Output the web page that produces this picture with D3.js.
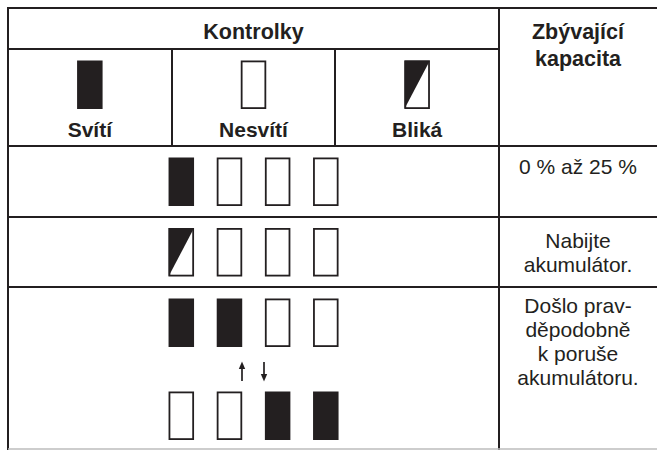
<!DOCTYPE html>
<html><head><meta charset="utf-8">
<script src="https://cdn.jsdelivr.net/npm/d3@7"></script>
<style>html,body{margin:0;padding:0;background:#fff;}svg{display:block;}</style>
</head><body>
<svg id="c" width="657" height="450"></svg>
<script>
// ---- data ----
const headerMain = "Kontrolky";
const headerCap = ["Zbývající", "kapacita"];
const legendLabels = ["Svítí", "Nesvítí", "Bliká"];
const legendStates = ["on", "off", "blink"];
const row1States = ["on", "off", "off", "off"];
const row2States = ["blink", "off", "off", "off"];
const row3TopStates = ["on", "on", "off", "off"];
const row3BottomStates = ["off", "off", "on", "on"];
const row1Text = ["0 % až 25 %"];
const row2Text = ["Nabijte", "akumulátor."];
const row3Text = ["Došlo prav-", "děpodobně", "k poruše", "akumulátoru."];
const lamps = [0, 1, 2, 3];

// ---- layout ----
const ink = "#231f20";
const svg = d3.select("#c");
const colX = [8, 172, 335, 499, 657];
const rowY = [8, 49, 146, 217, 287, 449];
const lampX = d3.scalePoint().domain(lamps).range([181.3, 325.8]);
const legendX = d3.scaleBand().domain(legendLabels).range([colX[0], colX[3]]);
const lw = 25.5, lh = 48.5;

function lamp(g, cx, y, state) {
  const x = cx - lw / 2;
  if (state === "on") {
    g.append("rect").attr("x", x).attr("y", y).attr("width", lw).attr("height", lh).attr("fill", ink);
  } else {
    g.append("rect").attr("x", x + 0.9).attr("y", y + 0.9).attr("width", lw - 1.8).attr("height", lh - 1.8)
      .attr("fill", "#fff").attr("stroke", ink).attr("stroke-width", 1.8);
    if (state === "blink") {
      g.append("path").attr("d", `M${x},${y}L${x + lw},${y}L${x},${y + lh}Z`).attr("fill", ink);
    }
  }
}

// grid lines
const lines = svg.append("g").attr("stroke", ink).attr("stroke-width", 2);
lines.append("line").attr("x1", colX[0]).attr("x2", 657).attr("y1", rowY[0]).attr("y2", rowY[0]);
lines.append("line").attr("x1", colX[0]).attr("x2", colX[0]).attr("y1", rowY[0] - 1).attr("y2", 450);
lines.append("line").attr("x1", colX[3]).attr("x2", colX[3]).attr("y1", rowY[0]).attr("y2", 450);
lines.append("line").attr("x1", colX[0]).attr("x2", colX[3]).attr("y1", rowY[1]).attr("y2", rowY[1]);
[colX[1], colX[2]].forEach(x => lines.append("line").attr("x1", x).attr("x2", x).attr("y1", rowY[1]).attr("y2", rowY[2]));
[rowY[2], rowY[3], rowY[4]].forEach(y => lines.append("line").attr("x1", colX[0]).attr("x2", 657).attr("y1", y).attr("y2", y));
svg.append("line").attr("x1", colX[0]).attr("x2", 657).attr("y1", rowY[5]).attr("y2", rowY[5])
  .attr("stroke", "#bdbdbd").attr("stroke-width", 1.5);

// header text
const font = "'Liberation Sans', Arial, sans-serif";
svg.append("text").attr("x", (colX[0] + colX[3]) / 2).attr("y", 38.5).attr("text-anchor", "middle")
  .attr("font-family", font).attr("font-weight", "bold").attr("font-size", 21.5).attr("fill", ink).text(headerMain);
const capX = (colX[3] + colX[4]) / 2;
headerCap.forEach((t, i) => svg.append("text").attr("x", capX).attr("y", 38.5 + i * 27).attr("text-anchor", "middle")
  .attr("font-family", font).attr("font-weight", "bold").attr("font-size", 21.5).attr("fill", ink).text(t));

// legend
const lg = svg.append("g");
legendLabels.forEach((lab, i) => {
  const cx = legendX(lab) + legendX.bandwidth() / 2;
  lamp(lg, cx, 60.5, legendStates[i]);
  lg.append("text").attr("x", cx).attr("y", 136.5).attr("text-anchor", "middle")
    .attr("font-family", font).attr("font-weight", "bold").attr("font-size", 21).attr("fill", ink).text(lab);
});

// rows of lamps
const rg = svg.append("g");
function lampRow(states, y) { lamps.forEach(i => lamp(rg, lampX(i), y, states[i])); }
lampRow(row1States, 157.5);
lampRow(row2States, 228);
lampRow(row3TopStates, 298.5);
lampRow(row3BottomStates, 391.5);

// arrows
const ag = svg.append("g").attr("stroke", ink).attr("stroke-width", 1.7).attr("fill", ink);
const upX = 242, downX = 264;
ag.append("line").attr("x1", upX).attr("x2", upX).attr("y1", 381).attr("y2", 367);
ag.append("path").attr("d", `M${upX - 3.2},${369}L${upX},${361.5}L${upX + 3.2},${369}Z`).attr("stroke", "none");
ag.append("line").attr("x1", downX).attr("x2", downX).attr("y1", 362).attr("y2", 376);
ag.append("path").attr("d", `M${downX - 3.2},${374}L${downX},${381.5}L${downX + 3.2},${374}Z`).attr("stroke", "none");

// capacity texts
function capText(lines, y0) {
  lines.forEach((t, i) => svg.append("text").attr("x", capX).attr("y", y0 + i * 24.3).attr("text-anchor", "middle")
    .attr("font-family", font).attr("font-size", 21).attr("fill", ink).text(t));
}
capText(row1Text, 173.5);
capText(row2Text, 247.5);
capText(row3Text, 312.5);
</script>
</body></html>
